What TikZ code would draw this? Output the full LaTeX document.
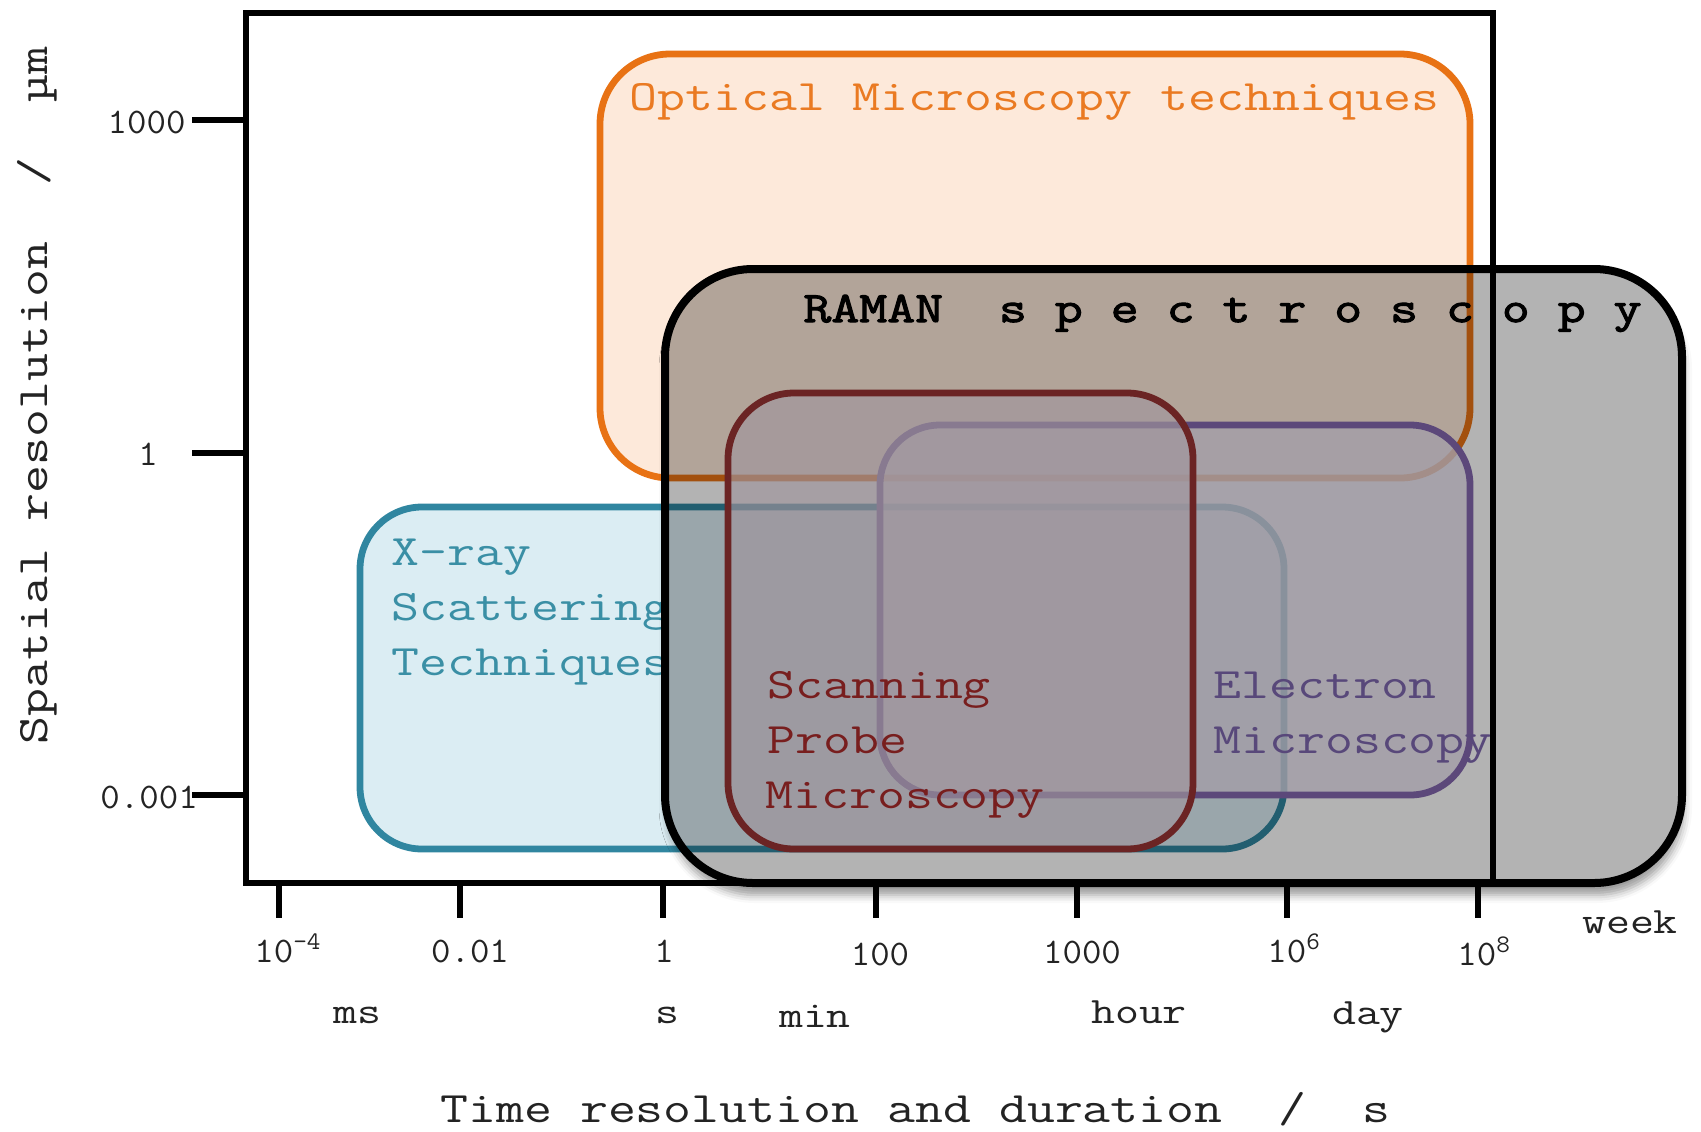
\documentclass[tikz,border=0pt]{standalone}
\usepackage{fontspec}
% wide typewriter faces for the labels
\newfontfamily\cour[FakeStretch=1.25]{Latin Modern Mono}
\newfontfamily\courbf[FakeStretch=1.25,FakeBold=2.5]{Latin Modern Mono}
\newfontfamily\courn[FakeStretch=1.05]{Latin Modern Mono}
\usetikzlibrary{shadows.blur}

% box colours
\definecolor{peach}{RGB}{253,233,218}
\definecolor{orangeline}{RGB}{232,114,20}
\definecolor{orangetxt}{RGB}{234,122,34}
\definecolor{bluefill}{RGB}{219,237,243}
\definecolor{blueline}{RGB}{48,134,160}
\definecolor{bluetxt}{RGB}{58,143,165}
\definecolor{ramangray}{RGB}{179,179,179}
% the same colours seen through the grey Raman area
\definecolor{peachdark}{RGB}{178,164,153}
\definecolor{orangedark}{RGB}{163,80,14}
\definecolor{bluefilldark}{RGB}{154,166,171}
\definecolor{bluelinedark}{RGB}{34,94,112}
\definecolor{purplefill}{RGB}{163,158,168}
\definecolor{purpleline}{RGB}{92,72,122}
\definecolor{purpletxt}{RGB}{88,72,122}
\definecolor{redfill}{RGB}{160,149,157}
\definecolor{redline}{RGB}{107,36,36}
\definecolor{redtxt}{RGB}{120,30,30}
\definecolor{axistxt}{RGB}{35,35,35}

\begin{document}
\begin{tikzpicture}[x=0.5pt,y=-0.5pt,
  boxline/.style={line width=3.4pt},
  bigtext/.style={font=\cour\fontsize{21.7}{26}\selectfont, inner sep=0pt, anchor=base west},
  ticktext/.style={font=\courn\fontsize{18}{21}\selectfont, inner sep=0pt, anchor=base, text=axistxt},
  unittext/.style={font=\cour\fontsize{18.6}{22}\selectfont, inner sep=0pt, anchor=base, text=axistxt},
  tickmark/.style={line width=2.6pt},
  framebox/.style={line width=3pt},
  optcorner/.style={rounded corners=35pt},
  xraycorner/.style={rounded corners=31pt},
  ramancorner/.style={rounded corners=44pt},
  spmcorner/.style={rounded corners=33pt},
  emcorner/.style={rounded corners=30pt}]
\useasboundingbox (0,0) rectangle (1701,1131);

% optical microscopy area
\path[fill=peach, draw=orangeline, boxline, optcorner] (600,54) rectangle (1470,478);
% x-ray scattering area
\path[fill=bluefill, draw=blueline, boxline, xraycorner] (360,507) rectangle (1284,849);

\node[bigtext, text=orangetxt] (optical) at (629,110) {Optical Microscopy techniques};
\node[bigtext, text=bluetxt] (xray1) at (391,565) {X-ray};
\node[bigtext, text=bluetxt] (xray2) at (391,620) {Scattering};
\node[bigtext, text=bluetxt] (xray3) at (391,675) {Techniques};

% raman area: grey with a soft shadow underneath
\path[fill=ramangray, ramancorner,
  blur shadow={shadow xshift=1pt, shadow yshift=-6pt, shadow blur radius=4pt, shadow opacity=40}]
  (665,269) rectangle (1682,883);
\begin{scope}
  \clip[ramancorner] (665,269) rectangle (1682,883);
  \path[fill=peachdark, draw=orangedark, boxline, optcorner] (600,54) rectangle (1470,478);
  \path[fill=bluefilldark, draw=bluelinedark, boxline, xraycorner] (360,507) rectangle (1284,849);
\end{scope}
\draw[line width=4pt, ramancorner] (665,269) rectangle (1682,883);
\node[bigtext, font=\courbf\fontsize{21.7}{26}\selectfont] (raman) at (803,322)
  {RAMAN\ \ s p e c t r o s c o p y};

% electron microscopy area
\path[fill=purplefill, fill opacity=0.8, draw=purpleline, boxline, emcorner] (880,425) rectangle (1470,795);
% scanning probe microscopy area
\path[fill=redfill, fill opacity=0.65, draw=redline, boxline, spmcorner] (728,393) rectangle (1193,849);

\node[bigtext, text=redtxt] (spm1) at (767,698) {Scanning};
\node[bigtext, text=redtxt] (spm2) at (767,753) {Probe};
\node[bigtext, text=redtxt] (spm3) at (765,808) {Microscopy};
\node[bigtext, text=purpletxt] (em1) at (1213,698) {Electron};
\node[bigtext, text=purpletxt] (em2) at (1213,753) {Microscopy};

% axes frame
\draw[framebox] (246,13) rectangle (1493,883);

% vertical axis
\draw[tickmark] (192,120) -- (247,120);
\draw[tickmark] (192,453) -- (247,453);
\draw[tickmark] (192,795) -- (247,795);
\node[ticktext, anchor=base east] (y1000) at (186,133) {1000};
\node[ticktext] (y1) at (148,465) {1};
\node[ticktext, anchor=base west] (y0001) at (100,808) {0.001};
\node[bigtext, rotate=90, text=axistxt] (ylabel) at (47,745) {Spatial resolution\ \ /\ \ µm};

% horizontal axis
\foreach \tx in {279,460,663,876,1077,1287,1478}
  \draw[tickmark] (\tx,885) -- (\tx,918);
\node[ticktext, anchor=base west] (tminus4) at (254,962) {10\textsuperscript{-4}};
\node[ticktext] (t001) at (470,962) {0.01};
\node[ticktext] (t1) at (664,962) {1};
\node[ticktext] (t100) at (880,965) {100};
\node[ticktext] (t1000) at (1082,963) {1000};
\node[ticktext, anchor=base west] (t6) at (1267,962) {10\textsuperscript{6}};
\node[ticktext, anchor=base west] (t8) at (1457,965) {10\textsuperscript{8}};
\node[unittext] (week) at (1630,933) {week};
\node[unittext] (ms) at (357,1023) {ms};
\node[unittext] (sec) at (667,1023) {s};
\node[unittext] (min) at (815,1027) {min};
\node[unittext] (hour) at (1139,1023) {hour};
\node[unittext] (day) at (1368,1024) {day};
\node[bigtext, text=axistxt] (xlabel) at (440,1122) {Time resolution and duration\ \ /\ \ s};
\end{tikzpicture}
\end{document}
